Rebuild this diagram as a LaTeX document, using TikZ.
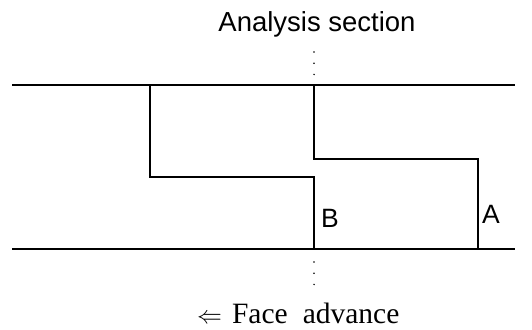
\documentclass[tikz,border=0pt]{standalone}
\usepackage{fontspec}
\setmainfont{Liberation Serif}
\setsansfont{Liberation Sans}
\usepackage{tikz}
\usetikzlibrary{positioning}

\begin{document}
\begin{tikzpicture}[
  x=1pt, y=-1pt,
  seam/.style={line width=1.6pt},
  face/.style={line width=1.6pt},
  dots/.style={line width=1.7pt, line cap=round, dash pattern=on 0pt off 11.2pt},
  lbl/.style={font=\sffamily\fontsize{26.5}{30}\selectfont, anchor=base, inner sep=0pt},
]
\useasboundingbox (0,0) rectangle (532,329);

% ============ Title ============
\node[lbl, font=\sffamily\fontsize{27.5}{30}\selectfont] (title) at (317,32) {Analysis section};

% ============ Seam (roof and floor) ============
\coordinate (roofL) at (12,85);
\coordinate (roofR) at (515,85);
\coordinate (floorL) at (12,249);
\coordinate (floorR) at (515,249);
\draw[seam] (roofL) -- (roofR);
\draw[seam] (floorL) -- (floorR);

% ============ Faces ============
\coordinate (faceB) at (314,249);
\coordinate (faceA) at (478,249);
\draw[face] (150,85) |- (314,177) -- (faceB);
\draw[face] (314,85) |- (478,159) -- (faceA);

% ============ Section marks ============
\draw[dots] (314,52) -- (314,75);
\draw[dots] (314,262) -- (314,288);

% ============ Labels ============
\node[lbl] (labB) at (330,227) {B};
\node[lbl] (labA) at (491,223) {A};
\node[anchor=base west, inner sep=0pt, font=\fontsize{29.5}{32}\selectfont] (advance) at (197,323)
  {$\Leftarrow$\hspace{10pt}Face\hspace{15pt}advance};

\end{tikzpicture}
\end{document}
